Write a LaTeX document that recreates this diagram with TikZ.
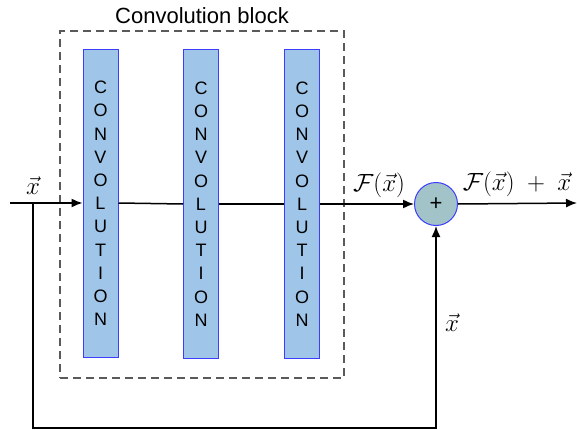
\documentclass[tikz,border=0pt]{standalone}
\usepackage{fontspec}
\setmainfont{Liberation Sans}
\usetikzlibrary{arrows.meta}
\definecolor{convfill}{HTML}{9FC5E8}
\definecolor{convdraw}{HTML}{3D3DFF}
\definecolor{sumfill}{HTML}{A2C4C9}
\definecolor{boxgray}{HTML}{5A5A5A}
\tikzset{
  convbox/.style={draw=convdraw, fill=convfill, line width=1pt, minimum width=35pt, minimum height=308pt, inner sep=0pt, align=center, font=\fontsize{18}{23.2}\selectfont},
  sumnode/.style={circle, draw=convdraw, fill=sumfill, line width=1pt, minimum size=43pt, inner sep=0pt, font=\fontsize{22}{26}\selectfont},
  blockbox/.style={draw=boxgray, line width=1.6pt, dash pattern=on 8pt off 5pt, minimum width=284pt, minimum height=347pt, inner sep=0pt},
  conn/.style={line width=1.5pt, black},
  arr/.style={conn, -{Latex[length=11pt,width=9pt]}},
  mlabel/.style={font=\fontsize{23}{27}\selectfont, inner sep=0pt},
}
\begin{document}
\begin{tikzpicture}[x=1pt,y=-1pt]
\useasboundingbox (0,0) rectangle (577,430);
\node[blockbox] (block) at (202,204.5) {};
\node[font=\fontsize{22}{26}\selectfont, inner sep=0pt] (title) at (202,16) {Convolution block};
\node[convbox] (c1) at (100.5,203.5) {C\\O\\N\\V\\O\\L\\U\\T\\I\\O\\N};
\node[convbox] (c2) at (201,204) {C\\O\\N\\V\\O\\L\\U\\T\\I\\O\\N};
\node[convbox] (c3) at (302,204) {C\\O\\N\\V\\O\\L\\U\\T\\I\\O\\N};
\node[sumnode] (sum) at (436,204) {+};
\coordinate (in) at (10,203);
\coordinate (j) at (33,203);
\coordinate (bot) at (33,428);
\coordinate (out) at (577,203);
\draw[arr] (in) -- (c1.west |- in);
\draw[conn] (c1.east |- in) -- (c2.west |- sum);
\draw[conn] (c2.east |- sum) -- (c3.west |- sum);
\draw[arr] (c3.east |- sum) -- (sum.west);
\draw[arr] (sum.east) -- (out);
\draw[arr] (j) -- (bot) -| (sum.south);
\node[mlabel] (lx) at (33,186) {$\vec{x}$};
\node[mlabel] (lf) at (379,185) {$\mathcal{F}(\vec{x})$};
\node[mlabel] (lfx) at (517,184) {$\mathcal{F}(\vec{x})\;+\;\vec{x}$};
\node[mlabel] (lb) at (452,323) {$\vec{x}$};
\end{tikzpicture}
\end{document}
